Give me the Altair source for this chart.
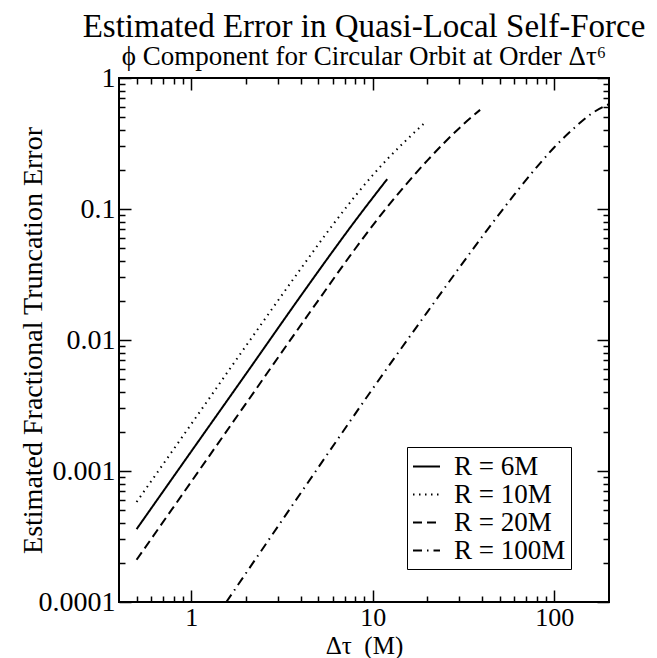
import altair as alt
import pandas as pd

# ---- data ----
series = ["R = 6M", "R = 10M", "R = 20M", "R = 100M"]

dt_6 = [0.5, 1, 2, 4, 6, 8, 10, 12]
err_6 = [3.6e-4, 1.41e-3, 5.5e-3, 0.0216, 0.0473, 0.0813, 0.122, 0.169]

dt_10 = [0.5, 1, 2, 4, 6, 8, 10, 12, 15, 19]
err_10 = [5.8e-4, 2.28e-3, 9.0e-3, 0.0348, 0.0752, 0.1256, 0.1815, 0.2395, 0.327, 0.445]

dt_20 = [0.5, 1, 2, 5, 8, 11, 15, 20, 25, 32, 39]
err_20 = [2.1e-4, 8.28e-4, 3.27e-3, 0.020, 0.0497, 0.0889, 0.150, 0.235, 0.325, 0.451, 0.571]

dt_100 = [1.56, 3, 5, 10, 20, 40, 60, 80, 100, 130, 160, 200]
err_100 = [1e-4, 3.77e-4, 1.06e-3, 4.26e-3, 0.0164, 0.0614, 0.128, 0.209, 0.296, 0.421, 0.534, 0.632]

x_major = [1, 10, 100]
x_minor = [0.5, 0.6, 0.7, 0.8, 0.9, 2, 3, 4, 5, 6, 7, 8, 9,
           20, 30, 40, 50, 60, 70, 80, 90]
y_major = [0.0001, 0.001, 0.01, 0.1, 1]
y_minor = [m * 10.0 ** e for e in (-4, -3, -2, -1) for m in range(2, 10)]

rows = []
for name, xs, ys in [(series[0], dt_6, err_6), (series[1], dt_10, err_10),
                     (series[2], dt_20, err_20), (series[3], dt_100, err_100)]:
    for a, b in zip(xs, ys):
        rows.append({"series": name, "dt": a, "err": b})
df = pd.DataFrame(rows)

FONT = "Liberation Serif"
GFONT = "Liberation Serif, Times New Roman, DejaVu Serif, serif"
xscale = alt.Scale(type="log", domain=[0.4, 200], nice=False)
yscale = alt.Scale(type="log", domain=[0.0001, 1], nice=False)
dash_scale = alt.Scale(domain=series,
                       range=[[1, 0], [1.5, 4.5], [9, 5], [9, 5, 1.5, 5]])

common = dict(domain=False, grid=False, tickColor="black", tickWidth=1.5,
              labelFont=FONT, labelColor="black",
              titleColor="black", titleFontWeight="normal")


def xaxis(orient, major, labels=False, title=None):
    kw = dict(common)
    kw.update(orient=orient, values=x_major if major else x_minor,
              offset=-12 if major else -6, tickSize=12 if major else 6,
              labels=labels)
    if labels:
        kw.update(labelFontSize=26, labelPadding=2, format="~g")
    if title:
        kw.update(title=title, titleFont=GFONT, titleFontSize=25,
                  titlePadding=3)
    else:
        kw.update(title=None)
    return alt.Axis(**kw)


def yaxis(orient, major, labels=False, title=None):
    kw = dict(common)
    kw.update(orient=orient, values=y_major if major else y_minor,
              offset=-12 if major else -6, tickSize=12 if major else 6,
              labels=labels)
    if labels:
        kw.update(labelFontSize=28, labelPadding=4, format="~g")
    if title:
        kw.update(title=title, titleFont=FONT, titleFontSize=28,
                  titlePadding=-9)
    else:
        kw.update(title=None)
    return alt.Axis(**kw)


base = alt.Chart(df)

lines = base.mark_line(color="black", strokeWidth=2, clip=True,
                       interpolate="monotone").encode(
    x=alt.X("dt:Q", scale=xscale,
            axis=xaxis("bottom", True, labels=True, title="Δτ\u00a0 (M)")),
    y=alt.Y("err:Q", scale=yscale,
            axis=yaxis("left", True, labels=True,
                       title="Estimated Fractional Truncation Error")),
    strokeDash=alt.StrokeDash(
        "series:N", scale=dash_scale,
        legend=alt.Legend(title=None, orient="none", legendX=288, legendY=369,
                          symbolType="stroke", symbolSize=729,
                          symbolStrokeWidth=2, symbolStrokeColor="black",
                          labelFont=FONT, labelFontSize=27, labelColor="black",
                          labelOffset=13, rowPadding=0, padding=5,
                          strokeColor="black", fillColor="white")),
    detail="series:N",
)


def ghost(xa, ya):
    return base.mark_line(opacity=0).encode(
        x=alt.X("dt:Q", scale=xscale, axis=xa),
        y=alt.Y("err:Q", scale=yscale, axis=ya),
        detail="series:N",
    )


chart = alt.layer(
    lines,
    ghost(xaxis("bottom", False), yaxis("left", False)),
    ghost(xaxis("top", True), yaxis("right", True)),
    ghost(xaxis("top", False), yaxis("right", False)),
).resolve_axis(x="independent", y="independent").properties(
    width=490, height=524,
    title=alt.TitleParams(
        text="Estimated Error in Quasi-Local Self-Force",
        subtitle="ϕ Component for Circular Orbit at Order Δτ⁶",
        font=FONT, fontSize=33, fontWeight="normal", color="black",
        subtitleFont=GFONT, subtitleFontSize=27, subtitleColor="black",
        subtitlePadding=0, anchor="middle", offset=-6),
    padding={"left": 11, "top": 3, "right": 0, "bottom": 0},
).configure_view(stroke="black", strokeWidth=2).configure_title(
    font=FONT, subtitleFont=GFONT, subtitleFontWeight="normal",
    subtitleColor="black")

chart.save("out.html", embed_options={"renderer": "svg", "actions": False})
